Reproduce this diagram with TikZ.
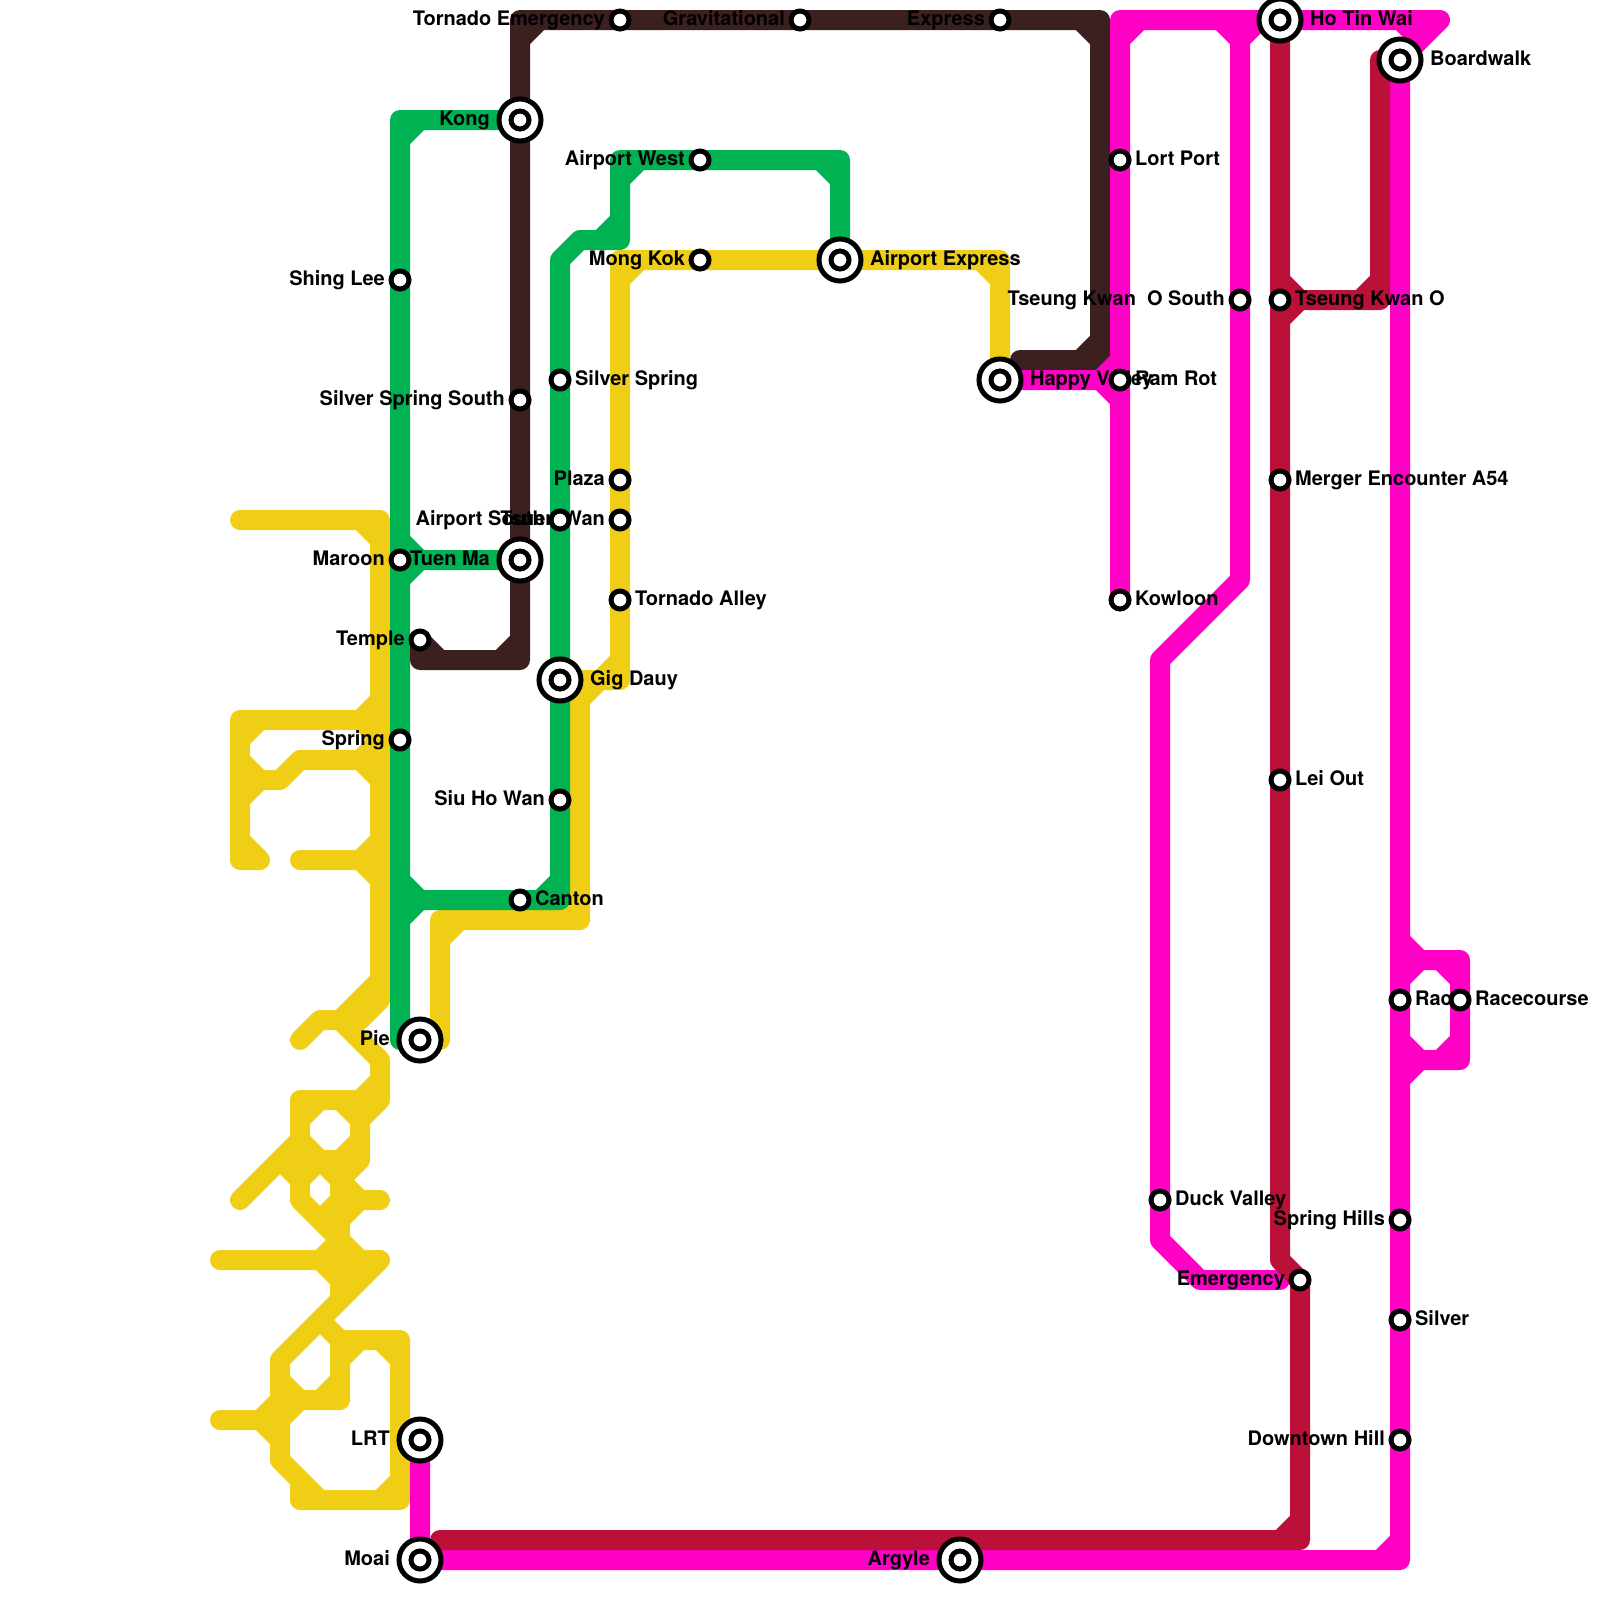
\documentclass[tikz,border=0pt]{standalone}
\usepackage{fontspec}
\setmainfont{TeX Gyre Heros}
\definecolor{lineyellow}{RGB}{240,206,21}
\definecolor{linegreen}{RGB}{0,178,81}
\definecolor{linebrown}{RGB}{60,32,32}
\definecolor{linepink}{RGB}{255,0,196}
\definecolor{linered}{RGB}{187,16,56}
\pgfdeclarelayer{lines}
\pgfdeclarelayer{names}
\pgfsetlayers{lines,names,main}
\tikzset{
    metro/.style={line width=1cm,line cap=round,line join=round},
    stop/.style={circle,draw=black,fill=white,line width=.25cm,inner sep=0pt,minimum size=.9cm},
    hub/.style={stop,minimum size=2.1cm,path picture={
        \draw[line width=.25cm,fill=white] (path picture bounding box.center) circle (.45cm);}},
    namebox/.style={inner sep=0pt,font=\fontsize{28.45}{34}\selectfont\bfseries},
    nameE/.style={namebox,anchor=base west,xshift=.75cm,yshift=-.27cm},
    nameW/.style={namebox,anchor=base east,xshift=-.75cm,yshift=-.27cm},
    hubE/.style={namebox,anchor=base west,xshift=1.5cm,yshift=-.27cm},
    hubW/.style={namebox,anchor=base east,xshift=-1.5cm,yshift=-.27cm}
}
\begin{document}
\begin{tikzpicture}[y=-1cm]
    \useasboundingbox (0,0) rectangle (80,80);
    \node[stop] (tornadoEmergency) at (31,1) {};
    \node[stop] (gravitational) at (40,1) {};
    \node[stop] (express) at (50,1) {};
    \node[hub] (kong) at (26,6) {};
    \node[stop] (airportWest) at (35,8) {};
    \node[stop] (mongKok) at (35,13) {};
    \node[hub] (airportExpress) at (42,13) {};
    \node[stop] (shingLee) at (20,14) {};
    \node[stop] (silverSpringSouth) at (26,20) {};
    \node[stop] (silverSpring) at (28,19) {};
    \node[stop] (plaza) at (31,24) {};
    \node[stop] (airportSouth) at (28,26) {};
    \node[stop] (tsuenWan) at (31,26) {};
    \node[stop] (maroon) at (20,28) {};
    \node[hub] (tuenMa) at (26,28) {};
    \node[stop] (tornadoAlley) at (31,30) {};
    \node[stop] (temple) at (21,32) {};
    \node[hub] (gigDauy) at (28,34) {};
    \node[stop] (spring) at (20,37) {};
    \node[stop] (siuHoWan) at (28,40) {};
    \node[stop] (canton) at (26,45) {};
    \node[hub] (pie) at (21,52) {};
    \node[hub] (lrt) at (21,72) {};
    \node[hub] (moai) at (21,78) {};
    \node[hub] (argyle) at (48,78) {};
    \node[hub] (happyValley) at (50,19) {};
    \node[stop] (lortPort) at (56,8) {};
    \node[stop] (ramRot) at (56,19) {};
    \node[stop] (kowloon) at (56,30) {};
    \node[stop] (oSouth) at (62,15) {};
    \node[hub] (hoTinWai) at (64,1) {};
    \node[stop] (tseungKwanO) at (64,15) {};
    \node[stop] (mergerEncounter) at (64,24) {};
    \node[stop] (leiOut) at (64,39) {};
    \node[stop] (duckValley) at (58,60) {};
    \node[stop] (emergency) at (65,64) {};
    \node[hub] (boardwalk) at (70,3) {};
    \node[stop] (raceWest) at (70,50) {};
    \node[stop] (raceEast) at (73,50) {};
    \node[stop] (springHills) at (70,61) {};
    \node[stop] (silver) at (70,66) {};
    \node[stop] (downtownHill) at (70,72) {};

    \begin{pgfonlayer}{lines}
    % yellow
    \draw[metro,lineyellow]
        (12,26) -- (19,26) -- (19,50) -- (18,51) (18,26) -- (19,27)
        (13,43) -- (12,43) -- (12,36) -- (19,36)
        (18,36) -- (19,35) (18,36) -- (19,37) (12,37) -- (13,36) (12,42) -- (13,43)
        (12,39) -- (14,39) -- (15,38) -- (19,38)
        (12,38) -- (13,39) (12,40) -- (13,39) (18,38) -- (19,37) (18,38) -- (19,39)
        (15,43) -- (19,43) (18,43) -- (19,42) (18,43) -- (19,44)
        (19,49) -- (17,51) -- (18,51)
        (15,52) -- (16,51) -- (17,51) -- (19,53) -- (19,55) -- (15,55) -- (15,60) -- (17,62)
        (18,55) -- (19,54) (19,55) -- (18,56) -- (18,58) -- (15,58)
        (15,56) -- (16,55) (17,55) -- (18,56) (15,57) -- (16,58) (17,58) -- (18,57)
        (12,60) -- (15,57) (14,58) -- (15,59) (15,59) -- (16,58) (16,58) -- (17,59) (18,58) -- (17,59)
        (17,59) -- (17,65) (17,60) -- (19,60) (17,59) -- (18,60) (18,60) -- (17,61) (17,60) -- (16,61)
        (11,63) -- (19,63) -- (14,68) -- (14,73) -- (16,75)
        (16,63) -- (17,62) (16,63) -- (17,64) (17,62) -- (18,63) (17,64) -- (18,63)
        (16,66) -- (17,67) -- (20,67) -- (20,75) -- (15,75) -- (15,74)
        (19,67) -- (20,68) (19,75) -- (20,74) (18,67) -- (17,68)
        (17,67) -- (17,70) -- (14,70)
        (17,69) -- (16,70) (14,69) -- (15,70) (13,71) -- (14,70) (13,71) -- (14,72) (15,70) -- (14,71)
        (11,71) -- (14,71);
    \draw[metro,lineyellow]
        (pie.center) -- (22,52) -- (22,46) -- (29,46) -- (29,35) -- (30,34)
        (22,47) -- (23,46) (28,46) -- (29,45)
        (gigDauy.center) -- (31,34) -- (tornadoAlley.center) -- (tsuenWan.center) -- (plaza.center)
        -- (31,13) -- (mongKok.center) -- (airportExpress.center) -- (50,13) -- (happyValley.center)
        (30,34) -- (31,33) (31,14) -- (32,13) (49,13) -- (50,14);
    % green
    \draw[metro,linegreen]
        (kong.center) -- (20,6) -- (shingLee.center) -- (maroon.center) -- (spring.center) -- (20,52) -- (pie.center)
        (21,6) -- (20,7)
        (maroon.center) -- (tuenMa.center) (20,27) -- (21,28) (20,29) -- (21,28)
        (20,45) -- (canton.center) -- (28,45) -- (siuHoWan.center) -- (gigDauy.center)
        -- (airportSouth.center) -- (silverSpring.center) -- (28,13) -- (29,12) -- (31,12) -- (31,8)
        -- (airportWest.center) -- (42,8) -- (airportExpress.center)
        (20,44) -- (21,45) (20,46) -- (21,45) (27,45) -- (28,44)
        (30,12) -- (31,11) (31,9) -- (32,8) (41,8) -- (42,9);
    % brown
    \draw[metro,linebrown]
        (temple.center) -- (21,33) -- (26,33) -- (tuenMa.center) -- (silverSpringSouth.center) -- (kong.center)
        -- (26,1) -- (tornadoEmergency.center) -- (gravitational.center) -- (express.center)
        -- (55,1) -- (55,18) -- (51,18)
        (temple.center) -- (22,33) (25,33) -- (26,32) (26,2) -- (27,1) (54,1) -- (55,2) (54,18) -- (55,17);
    % pink
    \draw[metro,linepink]
        (lrt.center) -- (moai.center) -- (argyle.center) -- (70,78) -- (downtownHill.center) -- (silver.center)
        -- (springHills.center) -- (raceWest.center) -- (boardwalk.center) -- (72,1) -- (hoTinWai.center)
        -- (56,1) -- (lortPort.center) -- (ramRot.center) -- (kowloon.center)
        (69,78) -- (70,77) (70,1) -- (71,2) (57,1) -- (56,2)
        (62,1) -- (oSouth.center) -- (62,29) -- (58,33) -- (duckValley.center) -- (58,62) -- (60,64) -- (64,64)
        (61,1) -- (62,2) (63,1) -- (62,2)
        (happyValley.center) -- (ramRot.center) (55,19) -- (56,18) (55,19) -- (56,20)
        (70,48) -- (73,48) -- (raceEast.center) -- (73,53) -- (70,53)
        (70,47) -- (71,48) (70,49) -- (71,48) (72,48) -- (73,49)
        (73,52) -- (72,53) (70,52) -- (71,53) (70,54) -- (71,53);
    % red
    \draw[metro,linered]
        (hoTinWai.center) -- (tseungKwanO.center) -- (mergerEncounter.center) -- (leiOut.center) -- (64,63)
        -- (emergency.center) -- (65,77) -- (22,77)
        (64,77) -- (65,76)
        (69,3) -- (69,15) -- (tseungKwanO.center)
        (64,14) -- (65,15) (64,16) -- (65,15) (68,15) -- (69,14);
    \end{pgfonlayer}

    \begin{pgfonlayer}{names}
    \node[nameW] (tornadoEmergencyName) at (tornadoEmergency) {Tornado Emergency};
    \node[nameW] (gravitationalName) at (gravitational) {Gravitational};
    \node[nameW] (expressName) at (express) {Express};
    \node[hubW] (kongName) at (kong) {Kong};
    \node[nameW] (airportWestName) at (airportWest) {Airport West};
    \node[nameW] (mongKokName) at (mongKok) {Mong Kok};
    \node[hubE] (airportExpressName) at (airportExpress) {Airport Express};
    \node[nameW] (shingLeeName) at (shingLee) {Shing Lee};
    \node[nameW] (silverSpringSouthName) at (silverSpringSouth) {Silver Spring South};
    \node[nameE] (silverSpringName) at (silverSpring) {Silver Spring};
    \node[nameW] (plazaName) at (plaza) {Plaza};
    \node[nameW] (airportSouthName) at (airportSouth) {Airport South};
    \node[nameW] (tsuenWanName) at (tsuenWan) {Tsuen Wan};
    \node[nameW] (maroonName) at (maroon) {Maroon};
    \node[hubW] (tuenMaName) at (tuenMa) {Tuen Ma};
    \node[nameE] (tornadoAlleyName) at (tornadoAlley) {Tornado Alley};
    \node[nameW] (templeName) at (temple) {Temple};
    \node[hubE] (gigDauyName) at (gigDauy) {Gig Dauy};
    \node[nameW] (springName) at (spring) {Spring};
    \node[nameW] (siuHoWanName) at (siuHoWan) {Siu Ho Wan};
    \node[nameE] (cantonName) at (canton) {Canton};
    \node[hubW] (pieName) at (pie) {Pie};
    \node[hubW] (lrtName) at (lrt) {LRT};
    \node[hubW] (moaiName) at (moai) {Moai};
    \node[hubW] (argyleName) at (argyle) {Argyle};
    \node[hubE] (happyValleyName) at (happyValley) {Happy Valley};
    \node[nameE] (lortPortName) at (lortPort) {Lort Port};
    \node[nameE] (ramRotName) at (ramRot) {Ram Rot};
    \node[nameE] (kowloonName) at (kowloon) {Kowloon};
    \node[nameW] (oSouthName) at (oSouth) {Tseung Kwan\ \ O South};
    \node[hubE] (hoTinWaiName) at (hoTinWai) {Ho Tin Wai};
    \node[nameE] (tseungKwanOName) at (tseungKwanO) {Tseung Kwan O};
    \node[nameE] (mergerEncounterName) at (mergerEncounter) {Merger Encounter A54};
    \node[nameE] (leiOutName) at (leiOut) {Lei Out};
    \node[nameE] (duckValleyName) at (duckValley) {Duck Valley};
    \node[nameW] (emergencyName) at (emergency) {Emergency};
    \node[hubE] (boardwalkName) at (boardwalk) {Boardwalk};
    \node[nameE] (raceWestName) at (raceWest) {Rac};
    \node[nameE] (raceEastName) at (raceEast) {Racecourse};
    \node[nameW] (springHillsName) at (springHills) {Spring Hills};
    \node[nameE] (silverName) at (silver) {Silver};
    \node[nameW] (downtownHillName) at (downtownHill) {Downtown Hill};
    \end{pgfonlayer}
\end{tikzpicture}
\end{document}
